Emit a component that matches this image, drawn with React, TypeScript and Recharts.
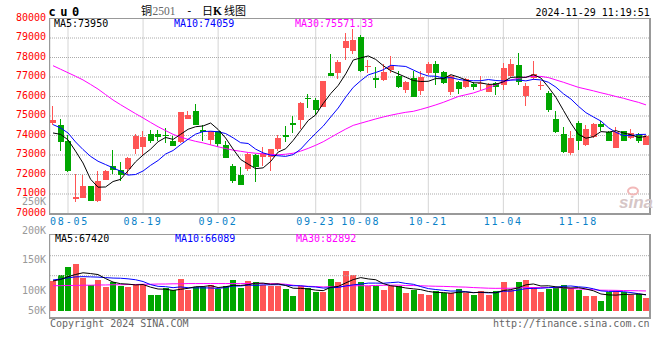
import React from 'react';
import { ComposedChart, Bar, Line, XAxis, YAxis, CartesianGrid, ReferenceLine } from 'recharts';

// ---- data (cu2501), 08-01 .. 11-29 ----
const dateLabels = ['08-05', '08-19', '09-02', '09-23', '10-08', '10-21', '11-04', '11-18'];
const dateIdx = [2, 12, 22, 35, 41, 50, 60, 70];

const opens = [
  74660, 74540, 73700, 70760, 70800, 71410, 70640, 71720, 72440, 72230,
  72300, 73330, 73400, 74080, 74080, 74010, 73740, 73650, 74870, 75240,
  74270, 73770, 74220, 73500, 72440, 71990, 72300, 73020, 72900, 72880,
  73310, 74030, 74630, 74810, 75920, 75820, 75480, 77210, 77210, 78510,
  78350, 79050, 77500, 76930, 76860, 77340, 77070, 76350, 76950, 76300,
  77210, 77670, 77260, 76250, 76750, 76490, 76640, 76640, 76230, 76680,
  76610, 77040, 77620, 76010, 76950, 76520, 76180, 74850, 74080, 73100,
  74630, 73520, 73930, 74570, 74160, 73360, 74220, 73870, 74080, 73530,
];
const highs = [
  75530, 74850, 74010, 72010, 72000, 71430, 72180, 72230, 73240, 72640,
  72880, 74080, 74220, 74270, 74280, 74390, 73960, 75210, 75260, 75620,
  74520, 74250, 74250, 73700, 72560, 72390, 73100, 73050, 73400, 73330,
  74030, 74510, 75020, 75720, 76130, 75920, 76800, 78180, 77860, 79260,
  79480, 79170, 77890, 77500, 77670, 78080, 77330, 76810, 77290, 77290,
  77770, 77840, 77290, 77090, 76780, 76950, 76730, 77040, 76680, 76750,
  77720, 77940, 78230, 76690, 77800, 76780, 76270, 75240, 74440, 74220,
  74730, 74520, 74640, 74730, 74220, 74420, 74250, 74350, 74130, 74040,
];
const lows = [
  74560, 73220, 72130, 70580, 70780, 70620, 70610, 71700, 72010, 71650,
  71990, 73050, 73020, 73620, 73700, 73620, 73450, 73620, 74850, 74520,
  73740, 73530, 73400, 72850, 71580, 71460, 72170, 71620, 72460, 72200,
  73220, 73670, 74130, 74350, 75410, 75070, 75450, 77040, 76900, 77870,
  78200, 77280, 77210, 76440, 76810, 77210, 76440, 76200, 75980, 76100,
  77120, 76610, 76640, 76100, 76130, 76440, 76350, 76350, 76220, 76060,
  76350, 76980, 76610, 75530, 76860, 76350, 75210, 74130, 73100, 73020,
  73280, 73450, 73870, 74220, 73700, 73360, 73700, 73840, 73620, 73500,
];
const closes = [
  74810, 73690, 72170, 70850, 71430, 70640, 71670, 72200, 72250, 71990,
  72850, 73980, 73930, 73740, 73910, 73960, 73480, 75210, 75050, 74540,
  74160, 74220, 73580, 72870, 71690, 71480, 73050, 72400, 73100, 73310,
  73870, 73940, 74520, 75670, 75860, 75330, 76800, 77070, 77770, 78830,
  78880, 77330, 77580, 76860, 77270, 77580, 76510, 76750, 75990, 77000,
  77670, 77210, 76690, 77040, 76400, 76900, 76490, 76680, 76610, 76490,
  77460, 77670, 76750, 76540, 77160, 76610, 75330, 74180, 73160, 73870,
  73740, 74340, 74590, 74440, 73740, 74160, 73740, 74130, 73740, 73990,
];
const ma5 = [
  74130, 74060, 73780, 73200, 72590, 71760, 71350, 71360, 71640, 71750,
  72190, 72650, 73000, 73300, 73680, 73900, 73800, 74060, 74320, 74450,
  74490, 74640, 74310, 73870, 73300, 72770, 72530, 72300, 72340, 72670,
  73150, 73320, 73750, 74260, 74770, 75060, 75640, 76150, 76570, 77160,
  77870, 77980, 78080, 77900, 77580, 77320, 77160, 76990, 76820, 76770,
  76780, 76920, 76910, 77120, 77000, 76850, 76700, 76700, 76620, 76630,
  76750, 76980, 77000, 76980, 77120, 76950, 76480, 75960, 75290, 74630,
  74060, 73860, 73940, 74200, 74170, 74250, 74130, 74040, 73900, 73950,
];
const ma10 = [
  74560, 74390, 74130, 73670, 73280, 72930, 72680, 72510, 72340, 72170,
  71970, 72000, 72180, 72470, 72720, 73050, 73230, 73530, 73810, 74070,
  74200, 74220, 74190, 74100, 73880, 73630, 73590, 73300, 73110, 72990,
  72960, 72930, 73020, 73300, 73720, 74110, 74480, 74950, 75410, 75970,
  76470, 76810, 77110, 77230, 77370, 77600, 77570, 77540, 77360, 77180,
  77050, 77040, 76950, 76970, 76880, 76820, 76810, 76810, 76870, 76820,
  76800, 76840, 76850, 76800, 76880, 76850, 76730, 76480, 76140, 75870,
  75500, 75170, 74950, 74740, 74400, 74160, 74000, 73990, 74050, 74060,
];
const ma30 = [
  77580, 77400, 77220, 77040, 76850, 76620, 76380, 76100, 75820, 75580,
  75350, 75120, 74900, 74670, 74450, 74250, 74060, 73920, 73800, 73700,
  73620, 73520, 73420, 73330, 73250, 73190, 73130, 73090, 73060, 73030,
  73010, 73040, 73090, 73200, 73340, 73500, 73680, 73900, 74120, 74330,
  74520, 74630, 74740, 74850, 74950, 75040, 75120, 75190, 75240, 75340,
  75450, 75570, 75700, 75850, 76000, 76090, 76180, 76310, 76440, 76600,
  76750, 76850, 76930, 77000, 77030, 77030, 76970, 76850, 76730, 76600,
  76470, 76380, 76290, 76190, 76100, 76000, 75910, 75800, 75700, 75570,
];

const volumes = [
  126000, 150000, 185000, 196000, 139000, 110000, 129000, 101000, 122000, 105000,
  101000, 112000, 110000, 66000, 66000, 97000, 87000, 133000, 87000, 100000,
  100000, 108000, 91000, 105000, 129000, 97000, 125000, 120000, 108000, 105000,
  105000, 91000, 63000, 104000, 94000, 80000, 80000, 133000, 122000, 168000,
  150000, 122000, 105000, 105000, 87000, 105000, 104000, 76000, 87000, 71000,
  66000, 83000, 73000, 73000, 91000, 73000, 68000, 83000, 68000, 83000,
  122000, 87000, 122000, 129000, 101000, 80000, 91000, 101000, 108000, 97000,
  87000, 63000, 63000, 41000, 77000, 83000, 77000, 66000, 71000, 55000,
];
const volMa5 = [
  125000, 131000, 143000, 152000, 159200, 156000, 151800, 135000, 120200, 113400,
  111600, 108200, 110000, 98800, 91000, 90200, 85200, 89800, 94000, 100800,
  101400, 105600, 97200, 100800, 106600, 106000, 109400, 115200, 115800, 111000,
  112600, 105800, 94400, 93600, 91400, 86400, 84200, 98200, 101800, 116600,
  130600, 139000, 133400, 130000, 113800, 104800, 101200, 95400, 91800, 88600,
  80800, 76600, 76000, 73200, 77200, 78600, 75600, 77600, 76600, 75000,
  84800, 88600, 96400, 108600, 112200, 103800, 104600, 100400, 96200, 95400,
  96800, 91200, 83600, 70200, 66200, 65400, 68200, 68800, 70200, 67400,
];
const volMa10 = [
  129000, 133000, 138000, 142000, 143000, 142000, 141000, 139000, 137000, 136300,
  133800, 130000, 122500, 109500, 102200, 100900, 96700, 99900, 96400, 95900,
  95800, 95400, 93500, 97400, 103700, 103700, 107500, 106200, 108300, 108800,
  109300, 107600, 104800, 104700, 101200, 99500, 95000, 96300, 97700, 104000,
  108500, 111600, 115800, 115900, 115200, 117700, 120100, 114400, 110900, 101200,
  92800, 88900, 85700, 82500, 82900, 79700, 76100, 76800, 74900, 76100,
  81700, 82100, 87000, 92600, 93600, 94300, 96600, 98400, 102400, 103800,
  100300, 97900, 92000, 83200, 80800, 81100, 79700, 76200, 71400, 66100,
];
const volMa30 = [
  105000, 105000, 106000, 106000, 107000, 107000, 108000, 108000, 109000, 109000,
  110000, 110000, 111000, 111000, 112000, 112000, 113000, 113000, 114000, 114000,
  114000, 114000, 114000, 114000, 114000, 114000, 114000, 114000, 114000, 113700,
  113000, 111000, 106900, 103900, 102400, 101400, 99700, 100800, 100800, 102900,
  104500, 104900, 104700, 106000, 106700, 107000, 107500, 105600, 105600, 104700,
  103500, 102700, 102100, 101000, 99800, 99000, 97100, 95800, 94500, 93800,
  94300, 94200, 96200, 97000, 97200, 97200, 97600, 96500, 96100, 93700,
  91600, 89600, 88200, 86100, 85800, 85400, 84500, 84100, 83600, 82900,
];

const priceTicks = [70000, 71000, 72000, 73000, 74000, 75000, 76000, 77000, 78000, 79000, 80000];
const volTickLabels = ['250K', '200K', '150K', '100K', '50K'];
const volGridLevels = [147000, 231000];

const priceLegend = ['MA5:73950', 'MA10:74059', 'MA30:75571.33'];
const volLegend = ['MA5:67420', 'MA10:66089', 'MA30:82892'];

// ---- look ----
const RED = '#ff5555';
const GREEN = '#00a600';
const MA_COLORS = ['#000000', '#0000ff', '#ff00ff'];
const GRID = '#aaaaaa';
const FRAME = '#999999';
const MONO = '"DejaVu Sans Mono", monospace';
const CJK = '"Noto Sans CJK SC", sans-serif';
const PLOT_LEFT = 50;
const X_DOMAIN: [number, number] = [-0.4, 79.47];

const rows = closes.map((close, i) => ({
  i,
  open: opens[i],
  high: highs[i],
  low: lows[i],
  close,
  range: [lows[i], highs[i]],
  ma5: ma5[i],
  ma10: ma10[i],
  ma30: ma30[i],
  vol: volumes[i],
  vma5: volMa5[i],
  vma10: volMa10[i],
  vma30: volMa30[i],
}));

// candle drawn inside the [low, high] range bar, so the y scale stays recharts'
const Candle = (props: any) => {
  const { x, y, width, height, payload } = props;
  if (x == null || !payload) return null;
  const top = Math.min(y, y + height);
  const h = Math.abs(height);
  const { open, close, high, low } = payload;
  const span = high - low || 1;
  const py = (v: number) => top + ((high - v) / span) * h;
  const color = close >= open ? RED : GREEN;
  const cx = Math.round(x + width / 2);
  const bTop = Math.round(py(Math.max(open, close)));
  const bBot = Math.round(py(Math.min(open, close)));
  return (
    <g>
      <rect x={cx - 1} y={Math.round(top)} width={1} height={Math.max(1, Math.round(top + h) - Math.round(top))} fill={color} />
      <rect x={cx - 3} y={bTop} width={6} height={Math.max(1, bBot - bTop)} fill={color} />
    </g>
  );
};

const VolBar = (props: any) => {
  const { x, y, width, height, payload } = props;
  if (x == null || !payload) return null;
  const cx = Math.round(x + width / 2);
  const t = Math.round(Math.min(y, y + height));
  const b = Math.round(Math.max(y, y + height));
  return <rect x={cx - 3} y={t} width={6} height={Math.max(1, b - t)} fill={payload.close >= payload.open ? RED : GREEN} />;
};

const DateTick = (props: any) => {
  const { x, y, payload } = props;
  const label = dateLabels[dateIdx.indexOf(payload.value)] ?? '';
  const clamp = x - 19.5 < PLOT_LEFT;
  return (
    <text x={clamp ? PLOT_LEFT : x} y={y + 11.5} textAnchor={clamp ? 'start' : 'middle'} fill="#0a82c8" fontFamily={MONO} fontSize={10} letterSpacing={1.8}>
      {label}
    </text>
  );
};

const PriceTick = (props: any) => {
  const { x, y, payload } = props;
  return (
    <text x={x} y={y + 2} textAnchor="end" fill="#ff0000" fontFamily={MONO} fontSize={10}>
      {payload.value}
    </text>
  );
};

const volLabelY = [204.5, 233.5, 263, 293.5, 313.5];
const legendX = [54, 174, 295];

export default function App() {
  return (
    <div style={{ position: 'absolute', left: 0, top: 0, width: 660, height: 360, background: '#fff' }}>
      {/* price panel */}
      <div style={{ position: 'absolute', left: 0, top: 0 }}>
        <ComposedChart width={660} height={360} data={rows} margin={{ top: 18.5, right: 10.5, bottom: 126.5, left: 0 }}>
          <CartesianGrid stroke={GRID} strokeDasharray="1 1" />
          <XAxis
            type="number"
            dataKey="i"
            domain={X_DOMAIN}
            allowDataOverflow
            ticks={dateIdx}
            interval={0}
            tick={<DateTick />}
            tickLine={false}
            axisLine={false}
            tickSize={0}
            tickMargin={0}
            height={20}
          />
          <YAxis
            domain={[70000, 80000]}
            allowDataOverflow
            ticks={priceTicks}
            interval={0}
            width={50}
            tick={<PriceTick />}
            tickLine={false}
            axisLine={false}
            tickSize={0}
            tickMargin={4}
          />
          <Bar dataKey="range" barSize={6} shape={<Candle />} isAnimationActive={false} />
          <Line type="linear" dataKey="ma30" stroke={MA_COLORS[2]} strokeWidth={1} dot={false} isAnimationActive={false} />
          <Line type="linear" dataKey="ma10" stroke={MA_COLORS[1]} strokeWidth={1} dot={false} isAnimationActive={false} />
          <Line type="linear" dataKey="ma5" stroke={MA_COLORS[0]} strokeWidth={1} dot={false} isAnimationActive={false} />
        </ComposedChart>
      </div>

      {/* volume panel */}
      <div style={{ position: 'absolute', left: 0, top: 0 }}>
        <ComposedChart width={660} height={360} data={rows} margin={{ top: 234.5, right: 10.5, bottom: 42, left: 50 }}>
          <CartesianGrid horizontal={false} stroke={GRID} strokeDasharray="1 1" />
          <XAxis type="number" dataKey="i" domain={X_DOMAIN} allowDataOverflow ticks={dateIdx} interval={0} tick={false} tickLine={false} axisLine={false} height={0} />
          <YAxis hide domain={[-30700, 320000]} allowDataOverflow />
          {volGridLevels.map((v) => (
            <ReferenceLine key={v} y={v} stroke={GRID} strokeDasharray="1 1" />
          ))}
          <Bar dataKey="vol" barSize={6} shape={<VolBar />} isAnimationActive={false} />
          <Line type="linear" dataKey="vma30" stroke={MA_COLORS[2]} strokeWidth={1} dot={false} isAnimationActive={false} />
          <Line type="linear" dataKey="vma10" stroke={MA_COLORS[1]} strokeWidth={1} dot={false} isAnimationActive={false} />
          <Line type="linear" dataKey="vma5" stroke={MA_COLORS[0]} strokeWidth={1} dot={false} isAnimationActive={false} />
        </ComposedChart>
      </div>

      {/* frames and static texts */}
      <svg width={660} height={360} style={{ position: 'absolute', left: 0, top: 0 }}>
        <g fill={FRAME}>
          <rect x={49} y={18} width={602} height={1} />
          <rect x={49} y={18} width={1} height={197} />
          <rect x={649} y={18} width={2} height={197} />
          <rect x={49} y={213} width={602} height={2} />
          <rect x={49} y={234} width={602} height={1} />
          <rect x={49} y={234} width={1} height={85} />
          <rect x={649} y={234} width={2} height={85} />
          <rect x={49} y={317} width={602} height={2} />
        </g>

        <text x={48.5} y={16} fontFamily={MONO} fontWeight="bold" fontSize={12} letterSpacing={4.5} fill="#000">cu0</text>
        <text x={141} y={14.5} fontFamily={CJK} fontSize={11} fill="#000">铜</text>
        <text x={152.5} y={14.5} fontFamily='"Liberation Serif", serif' fontSize={11.5} fill="#666">2501</text>
        <text x={186} y={14} fontFamily={MONO} fontSize={11} fill="#000">-</text>
        <text x={202} y={14.5} fontFamily={CJK} fontSize={11} fill="#000">日</text>
        <text x={213} y={14.5} fontFamily='"Liberation Serif", serif' fontWeight="bold" fontSize={11.5} fill="#000">K</text>
        <text x={224} y={14.5} fontFamily={CJK} fontSize={11} fill="#000">线图</text>
        <text x={535.5} y={15.5} fontFamily={MONO} fontSize={10} fill="#000">2024-11-29 11:19:51</text>

        {priceLegend.map((t, k) => (
          <text key={t} x={legendX[k]} y={27} fontFamily={MONO} fontSize={10} fill={MA_COLORS[k]}>{t}</text>
        ))}
        {volLegend.map((t, k) => (
          <text key={t} x={legendX[k] + 1} y={242} fontFamily={MONO} fontSize={10} fill={MA_COLORS[k]}>{t}</text>
        ))}
        {volTickLabels.map((t, k) => (
          <text key={t} x={46} y={volLabelY[k]} textAnchor="end" fontFamily={MONO} fontSize={10} fill="#999">{t}</text>
        ))}

        <text x={50} y={327} fontFamily={MONO} fontSize={10} fill="#666">Copyright 2024 SINA.COM</text>
        <text x={649.5} y={327} textAnchor="end" fontFamily={MONO} fontSize={10} fill="#666">http://finance.sina.com.cn</text>

        {/* sina watermark */}
        <ellipse cx={633} cy={191} rx={5} ry={3.5} fill="none" stroke="#f2b8b8" strokeWidth={2} />
        <text x={619} y={208} fontFamily='"Liberation Sans", sans-serif' fontStyle="italic" fontWeight="bold" fontSize={17} fill="#d6c6c6">sina</text>
      </svg>
    </div>
  );
}
